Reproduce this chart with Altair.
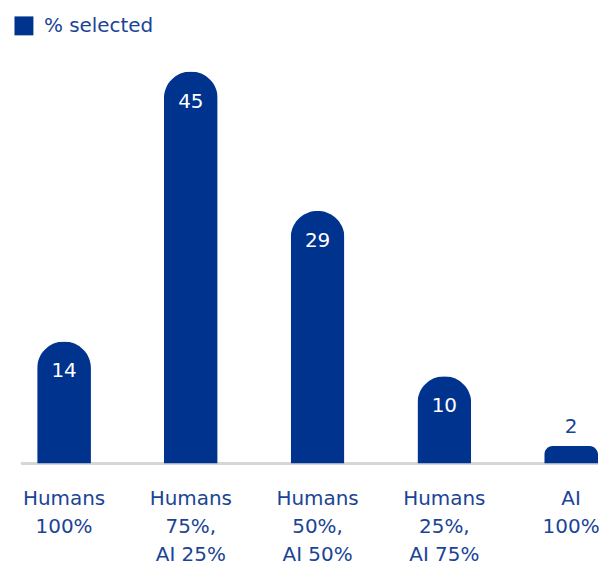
import altair as alt
import pandas as pd

categories = ["Humans|100%", "Humans|75%,|AI 25%", "Humans|50%,|AI 50%", "Humans|25%,|AI 75%", "AI|100%"]
values = [14, 45, 29, 10, 2]
series_name = "% selected"

BLUE = "#00338D"
FONT = "DejaVu Sans"
W, H = 592, 456

df = pd.DataFrame({"cat": categories, "val": values, "series": [series_name] * len(values)})

x = alt.X("cat:N", sort=categories, title=None,
          scale=alt.Scale(paddingInner=0.5755, paddingOuter=0.115, align=1),
          axis=alt.Axis(labelExpr="split(datum.label, '|')", labelAngle=0, labelFontSize=20,
                        labelFont=FONT, labelColor="#1a4496", labelLineHeight=28,
                        labelPadding=25, ticks=False, domain=False, labelLimit=300))
y = alt.Y("val:Q", scale=alt.Scale(domain=[0, 52.2], nice=False), axis=None)

base = alt.Chart(df)

bars = base.mark_bar(cornerRadiusTopLeft=27, cornerRadiusTopRight=27).encode(
    x=x, y=y,
    color=alt.Color("series:N", scale=alt.Scale(range=[BLUE]),
                    legend=alt.Legend(title=None, orient="none", legendX=6, legendY=7,
                                      symbolType="square", symbolSize=361, symbolStrokeWidth=0,
                                      symbolOpacity=1, labelFontSize=20, labelFont=FONT,
                                      labelColor="#1a4496", labelOffset=10))
)

inside = base.transform_filter("datum.val >= 5").mark_text(
    dy=30, color="white", fontSize=20, font=FONT, baseline="middle"
).encode(x=x, y=y, text="val:Q")

above = base.transform_filter("datum.val < 5").mark_text(
    dy=-19, color="#1a4496", fontSize=20, font=FONT, baseline="middle"
).encode(x=x, y=y, text="val:Q")

rule = alt.Chart(df).mark_rule(color="#d6d6d6", strokeWidth=2).encode(
    x=alt.value(13), x2=alt.value(W), y=alt.value(H)
)

chart = alt.layer(rule, bars, inside, above).properties(
    width=W, height=H, padding=0
).configure_view(stroke=None)

chart.save("out.html", embed_options={"renderer": "svg", "actions": False})
